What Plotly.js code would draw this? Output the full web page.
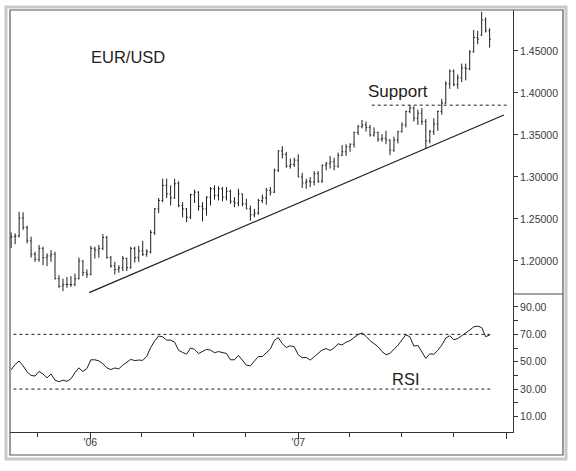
<!DOCTYPE html>
<html>
<head>
<meta charset="utf-8">
<script src="https://cdn.plot.ly/plotly-3.0.1.min.js"></script>
<style>html,body{margin:0;padding:0;background:#fff;}#chart{width:576px;height:471px;}</style>
</head>
<body>
<div id="chart"></div>
<script>
// ---- weekly EUR/USD bars (week starting 2005-08-15, 121 weeks) ----
const firstWeek = '2005-08-15';
const weekCount = 121;

const open = [
  // 2005
  1.2280,1.2290,1.2300,1.2510,1.2400,1.2240,1.2080,1.2020,1.2150,1.2040,1.2060,1.2080,1.1790,1.1700,1.1720,1.1720,1.1720,1.1790,1.2000,1.1860,
  // 2006
  1.1840,1.2150,1.2130,1.2150,1.2280,1.2040,1.1940,1.1900,1.1920,1.2030,1.1920,1.2150,1.2040,1.2120,1.2080,1.2110,1.2340,1.2620,1.2720,1.2900,
  1.2800,1.2750,1.2920,1.2660,1.2620,1.2520,1.2790,1.2820,1.2650,1.2620,1.2760,1.2860,1.2780,1.2860,1.2760,1.2830,1.2710,1.2690,1.2800,1.2680,
  1.2620,1.2550,1.2570,1.2720,1.2750,1.2840,1.2820,1.3080,1.3310,1.3270,1.3130,1.3150,
  // 2007
  1.3200,1.3000,1.2930,1.2950,1.2940,1.3040,1.2950,1.3140,1.3160,1.3180,1.3130,1.3260,1.3300,1.3360,1.3390,1.3530,1.3600,1.3620,1.3590,1.3500,
  1.3530,1.3450,1.3460,1.3440,1.3320,1.3440,1.3540,1.3620,1.3780,1.3820,1.3700,1.3760,1.3660,1.3430,1.3540,1.3630,1.3780,1.3880,1.4110,1.4260,
  1.4100,1.4180,1.4300,1.4290,1.4490,1.4660,1.4690,1.4870,1.4740
];
const high = [
  1.2340,1.2330,1.2586,1.2580,1.2420,1.2290,1.2110,1.2190,1.2170,1.2090,1.2130,1.2110,1.1830,1.1790,1.1810,1.1820,1.1850,1.2040,1.2010,1.1900,
  1.2180,1.2170,1.2190,1.2320,1.2300,1.2060,1.1990,1.1950,1.2060,1.2040,1.2170,1.2170,1.2180,1.2240,1.2140,1.2370,1.2630,1.2750,1.2980,1.2980,
  1.2900,1.2980,1.2950,1.2700,1.2630,1.2800,1.2850,1.2830,1.2700,1.2770,1.2880,1.2900,1.2890,1.2880,1.2880,1.2850,1.2760,1.2860,1.2800,1.2740,
  1.2660,1.2620,1.2740,1.2790,1.2870,1.2880,1.3100,1.3320,1.3367,1.3300,1.3220,1.3230,
  1.3270,1.3050,1.2980,1.3000,1.3070,1.3070,1.3150,1.3180,1.3250,1.3230,1.3290,1.3380,1.3390,1.3400,1.3540,1.3620,1.3680,1.3660,1.3620,1.3590,
  1.3540,1.3510,1.3550,1.3450,1.3480,1.3550,1.3650,1.3790,1.3852,1.3840,1.3800,1.3820,1.3690,1.3560,1.3700,1.3790,1.3930,1.4140,1.4280,1.4280,
  1.4220,1.4350,1.4350,1.4510,1.4750,1.4740,1.4967,1.4900,1.4770
];
const low = [
  1.2155,1.2200,1.2280,1.2370,1.2210,1.2040,1.1990,1.1990,1.1950,1.1940,1.1990,1.1780,1.1680,1.1640,1.1680,1.1690,1.1700,1.1780,1.1820,1.1800,
  1.1830,1.2030,1.2040,1.2130,1.2030,1.1920,1.1840,1.1860,1.1880,1.1880,1.1910,1.1980,1.1990,1.2060,1.2050,1.2090,1.2310,1.2570,1.2700,1.2750,
  1.2660,1.2740,1.2640,1.2520,1.2460,1.2500,1.2690,1.2600,1.2470,1.2540,1.2660,1.2730,1.2720,1.2710,1.2720,1.2680,1.2640,1.2650,1.2650,1.2620,
  1.2480,1.2520,1.2550,1.2690,1.2670,1.2780,1.2810,1.3060,1.3220,1.3110,1.3100,1.3120,
  1.3000,1.2870,1.2860,1.2880,1.2900,1.2930,1.2930,1.3080,1.3100,1.3080,1.3110,1.3250,1.3250,1.3300,1.3350,1.3500,1.3580,1.3540,1.3480,1.3480,
  1.3420,1.3420,1.3390,1.3260,1.3300,1.3400,1.3530,1.3590,1.3760,1.3660,1.3620,1.3620,1.3340,1.3400,1.3500,1.3550,1.3740,1.3870,1.4050,1.4080,
  1.4050,1.4130,1.4150,1.4270,1.4480,1.4580,1.4680,1.4720,1.4540
];
const close = [
  1.2290,1.2300,1.2510,1.2400,1.2240,1.2080,1.2020,1.2150,1.2040,1.2060,1.2080,1.1790,1.1700,1.1720,1.1720,1.1720,1.1790,1.2000,1.1860,1.1840,
  1.2150,1.2130,1.2150,1.2280,1.2040,1.1940,1.1900,1.1920,1.2030,1.1920,1.2150,1.2040,1.2120,1.2080,1.2110,1.2340,1.2620,1.2720,1.2900,1.2800,
  1.2750,1.2920,1.2660,1.2620,1.2520,1.2790,1.2820,1.2650,1.2620,1.2760,1.2860,1.2780,1.2860,1.2760,1.2830,1.2710,1.2690,1.2800,1.2680,1.2620,
  1.2550,1.2570,1.2720,1.2750,1.2840,1.2820,1.3080,1.3310,1.3270,1.3130,1.3150,1.3200,
  1.3000,1.2930,1.2950,1.2940,1.3040,1.2950,1.3140,1.3160,1.3180,1.3130,1.3260,1.3300,1.3360,1.3390,1.3530,1.3600,1.3620,1.3590,1.3500,1.3530,
  1.3450,1.3460,1.3440,1.3320,1.3440,1.3540,1.3620,1.3780,1.3820,1.3700,1.3760,1.3660,1.3430,1.3540,1.3630,1.3780,1.3880,1.4110,1.4260,1.4100,
  1.4180,1.4300,1.4290,1.4490,1.4660,1.4640,1.4870,1.4740,1.4640
];

// ---- RSI, one value per week ----
const rsi = [
  44,48,50.5,47,42.5,40,39.5,42.9,41,38.2,41,36.5,35.4,36.5,35.6,37.5,42,45.5,42.8,45,
  51.4,51.4,50.6,48.5,45.6,44.2,45.4,44.8,47.5,49.3,51.7,50.8,51.2,51,53.8,60.4,65.2,68.8,68.2,65.8,
  65.8,64.3,58.3,56.8,55.5,60,59,56,57.3,59,58.5,56.6,57.4,56.8,56,51.4,51.4,54.6,51,47.5,
  47,50.2,53.8,53.8,56.7,59.3,65.6,67.6,63.2,60.4,61.6,60.9,55.1,52.9,53.1,51.2,53.6,55.9,58.6,59.6,
  58.2,60.1,63.1,62.3,64.3,65.4,67.5,69.9,71,68.6,65.4,63.1,61,57.4,55.1,56.1,59,62,65.9,69.7,
  68.2,61.4,61.9,56.8,52.4,55.8,55.4,58.3,62.1,67.3,69,66,67,68.9,70.8,73.1,75.5,76,75,68.3,
  69.5
];

// ---- drawn reference lines ----
const trendX = ['2005-12-30', '2007-12-28'];
const trendY = [1.1623, 1.3738];
const supportX = ['2007-05-10', '2008-01-02'];
const supportY = [1.3855, 1.3855];
const rsiLevelX = ['2005-08-19', '2007-12-04'];
const rsiUpper = [70, 70];
const rsiLower = [30, 30];

// ---- axis ticks ----
const priceTicks = [1.20, 1.25, 1.30, 1.35, 1.40, 1.45];
const priceTickText = ['1.20000', '1.25000', '1.30000', '1.35000', '1.40000', '1.45000'];
const rsiTicks = [10, 20, 30, 40, 50, 60, 70, 80, 90];
const rsiTickText = ['10.00', '', '30.00', '', '50.00', '', '70.00', '', '90.00'];
const yearTicks = ['2006-01-01', '2007-01-01', '2008-01-01'];
const yearTickText = ["'06", "'07", ''];

// week dates
const dates = [];
{
  const d0 = new Date(firstWeek + 'T00:00:00Z');
  for (let i = 0; i < weekCount; i++) {
    const d = new Date(d0.getTime() + i * 7 * 86400000);
    dates.push(d.toISOString().slice(0, 10));
  }
}

const FONT = 'Liberation Sans, Arial, sans-serif';
const INK = '#1e1e1e';

const traces = [
  {
    type: 'ohlc', x: dates, open: open, high: high, low: low, close: close,
    xaxis: 'x', yaxis: 'y', tickwidth: 0.3,
    increasing: {line: {color: INK, width: 1}},
    decreasing: {line: {color: INK, width: 1}},
    hoverinfo: 'skip', showlegend: false
  },
  {
    type: 'scatter', mode: 'lines', x: trendX, y: trendY, xaxis: 'x', yaxis: 'y',
    line: {color: INK, width: 1.2}, hoverinfo: 'skip', showlegend: false
  },
  {
    type: 'scatter', mode: 'lines', x: supportX, y: supportY, xaxis: 'x', yaxis: 'y',
    line: {color: INK, width: 1, dash: '3px,3px'}, hoverinfo: 'skip', showlegend: false
  },
  {
    type: 'scatter', mode: 'lines', x: dates, y: rsi, xaxis: 'x', yaxis: 'y2',
    line: {color: INK, width: 1}, hoverinfo: 'skip', showlegend: false
  },
  {
    type: 'scatter', mode: 'lines', x: rsiLevelX, y: rsiUpper, xaxis: 'x', yaxis: 'y2',
    line: {color: INK, width: 1, dash: '3px,3px'}, hoverinfo: 'skip', showlegend: false
  },
  {
    type: 'scatter', mode: 'lines', x: rsiLevelX, y: rsiLower, xaxis: 'x', yaxis: 'y2',
    line: {color: INK, width: 1, dash: '3px,3px'}, hoverinfo: 'skip', showlegend: false
  }
];

const axisFont = {family: FONT, size: 10.5, color: '#3a3a3a'};

const layout = {
  width: 576, height: 471,
  margin: {l: 10, r: 63, t: 10, b: 39},
  paper_bgcolor: '#ffffff', plot_bgcolor: '#ffffff',
  showlegend: false,
  xaxis: {
    type: 'date', anchor: 'y2', domain: [0, 1],
    range: ['2005-08-13', '2008-01-13'],
    tickmode: 'array', tickvals: yearTicks, ticktext: yearTickText,
    ticks: 'outside', ticklen: 6, tickcolor: '#333', tickwidth: 1,
    ticklabelstandoff: -6,
    minor: {tickmode: 'linear', tick0: '2006-01-01', dtick: 'M3', ticks: 'outside', ticklen: 4, tickcolor: '#333', showgrid: false},
    showline: true, linecolor: '#333', linewidth: 1,
    showgrid: false, zeroline: false, tickfont: axisFont,
    rangeslider: {visible: false}, fixedrange: true
  },
  yaxis: {
    domain: [0.327, 1], side: 'right', anchor: 'x',
    range: [1.1607, 1.4988],
    tickmode: 'array', tickvals: priceTicks, ticktext: priceTickText,
    ticks: 'outside', ticklen: 4, tickcolor: '#333',
    showline: true, linecolor: '#333', linewidth: 1,
    showgrid: false, zeroline: false, tickfont: axisFont
  },
  yaxis2: {
    domain: [0, 0.327], side: 'right', anchor: 'x',
    range: [-1.4, 99.5],
    tickmode: 'array', tickvals: rsiTicks, ticktext: rsiTickText,
    ticks: 'outside', ticklen: 4, tickcolor: '#333',
    showline: true, linecolor: '#333', linewidth: 1,
    showgrid: false, zeroline: false, tickfont: axisFont
  },
  annotations: [
    {text: 'EUR/USD', xref: 'paper', yref: 'paper', x: 0.2346, y: 0.888, xanchor: 'center', yanchor: 'middle',
     showarrow: false, font: {family: FONT, size: 16.5, color: INK}},
    {text: 'Support', xref: 'paper', yref: 'paper', x: 0.7704, y: 0.806, xanchor: 'center', yanchor: 'middle',
     showarrow: false, font: {family: FONT, size: 17, color: INK}},
    {text: 'RSI', xref: 'paper', yref: 'paper', x: 0.788, y: 0.1256, xanchor: 'center', yanchor: 'middle',
     showarrow: false, font: {family: FONT, size: 16.5, color: INK}}
  ],
  shapes: [
    {type: 'rect', xref: 'paper', yref: 'paper', x0: -0.008, x1: 1.1054, y0: -0.064, y1: 1.0071,
     line: {color: '#c9c9c9', width: 3}},
    {type: 'rect', xref: 'paper', yref: 'paper', x0: 0, x1: 1.0994, y0: -0.0545, y1: 1,
     line: {color: '#555', width: 1.2}},
    {type: 'line', xref: 'paper', yref: 'paper', x0: 1, x1: 1.0994, y0: 0.327, y1: 0.327,
     line: {color: '#444', width: 1}}
  ]
};

Plotly.newPlot('chart', traces, layout, {staticPlot: true, displayModeBar: false});
</script>
</body>
</html>
